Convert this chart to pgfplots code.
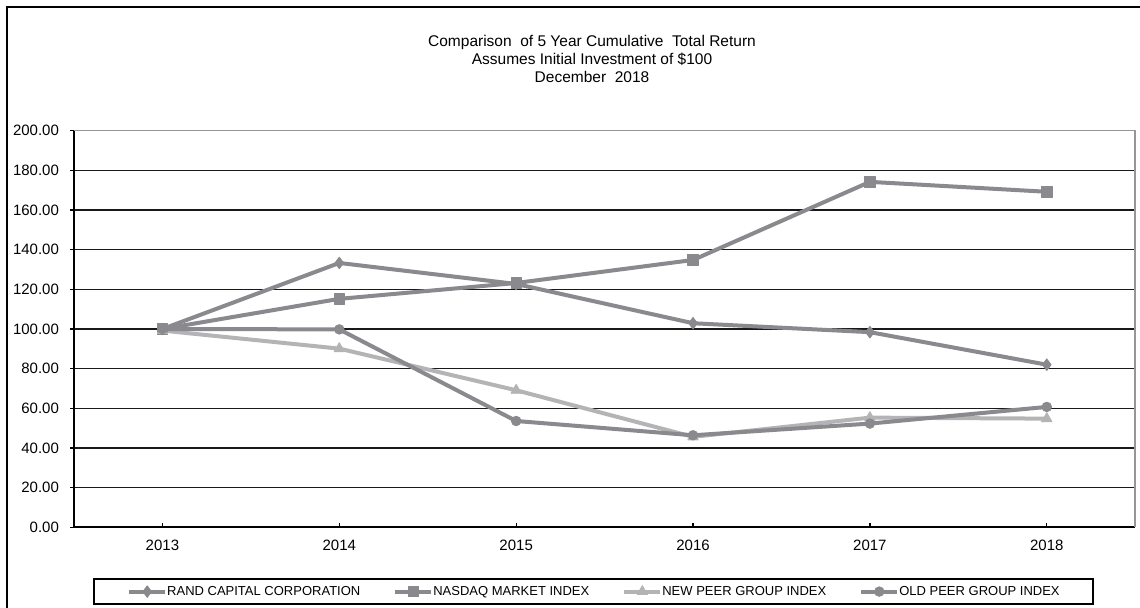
\documentclass[border=0pt]{standalone}
\usepackage{fontspec}
\setmainfont{Liberation Sans}
\usepackage{pgfplots}
\pgfplotsset{compat=1.18}
\definecolor{dg}{RGB}{138,138,142}
\definecolor{lg}{RGB}{180,180,182}
\definecolor{bordergray}{RGB}{150,150,150}
\begin{document}
\begin{tikzpicture}
\path[use as bounding box] (0,0) rectangle (570pt,304pt);
\fill[white] (0,0) rectangle (570pt,304pt);
\draw[line width=1pt] (3.35pt,0pt) -- (3.35pt,300.35pt) -- (570pt,300.35pt);
\node[anchor=base, font=\fontsize{7.75pt}{9pt}\selectfont, inner sep=0pt] at (296pt,280.85pt) {Comparison\ \ of 5 Year Cumulative\ \ Total Return};
\node[anchor=base, font=\fontsize{7.75pt}{9pt}\selectfont, inner sep=0pt] at (296pt,271.85pt) {Assumes Initial Investment of \$100};
\node[anchor=base, font=\fontsize{7.75pt}{9pt}\selectfont, inner sep=0pt] at (296pt,262.85pt) {December\ \ 2018};
\begin{axis}[
  scale only axis,
  width=530.6pt, height=198.3pt,
  at={(37pt,40.35pt)}, anchor=south west,
  xmin=-0.5, xmax=5.5, ymin=0, ymax=200,
  xtick={0,1,2,3,4,5},
  xticklabels={2013,2014,2015,2016,2017,2018},
  ytick={0,20,40,60,80,100,120,140,160,180,200},
  /pgf/number format/assume math mode=true,
  yticklabel style={/pgf/number format/fixed, /pgf/number format/fixed zerofill, /pgf/number format/precision=2, anchor=east, xshift=-5.35pt},
  axis lines*=left,
  axis line style={-, black, line width=0.9pt},
  tick align=outside,
  major tick length=2pt,
  tick style={black, line width=0.6pt},
  xtick style={yshift=2pt},
  ymajorgrids,
  grid style={black!90, line width=0.65pt},
  ticklabel style={font=\fontsize{7.5pt}{9pt}\selectfont, inner sep=0pt},
  xticklabel style={anchor=north, yshift=-4.35pt},
  clip=false,
  legend columns=4,
  legend cell align=left,
  legend image code/.code={\draw[mark repeat=2,mark phase=2,#1] plot coordinates {(0pt,0pt) (9pt,0pt) (18pt,0pt)};},
  legend style={at={(axis description cs:0.0182,-0.1286)}, anchor=north west,
    draw=black, line width=0.9pt, inner xsep=16.5pt, inner ysep=3.2pt,
    font=\fontsize{6.5pt}{7.8pt}\selectfont, column sep=0pt,
    nodes={inner sep=0pt, text height=4.7pt, text depth=0.3pt}},
]
\addplot[dg, line width=2pt, line join=round, mark=diamond*, mark size=2.9pt, mark options={solid, fill=dg, draw=dg, line width=0.4pt}]
  coordinates {(0,100) (1,133.3) (2,122.7) (3,102.9) (4,98.4) (5,82.0)};
\addplot[dg, line width=2pt, line join=round, mark=square*, mark size=2.6pt, mark options={solid, fill=dg, draw=dg, line width=0.4pt}]
  coordinates {(0,100) (1,115.2) (2,123.2) (3,134.8) (4,174.2) (5,169.2)};
\addplot[lg, line width=2pt, line join=round, mark=triangle*, mark size=3pt, mark options={solid, fill=lg, draw=lg, line width=0.4pt}]
  coordinates {(0,99.2) (1,90.1) (2,69.1) (3,45.6) (4,55.3) (5,54.8)};
\addplot[dg, line width=2pt, line join=round, mark=*, mark size=2.4pt, mark options={solid, fill=dg, draw=dg, line width=0.4pt}]
  coordinates {(0,100) (1,99.8) (2,53.6) (3,46.4) (4,52.3) (5,60.7)};
\legend{RAND CAPITAL CORPORATION\hspace*{16.5pt},NASDAQ MARKET INDEX\hspace*{16.5pt},NEW PEER GROUP INDEX\hspace*{16.5pt},OLD PEER GROUP INDEX}
\draw[bordergray, line width=0.75pt] (rel axis cs:0,1) -- (rel axis cs:1,1) -- (rel axis cs:1,0);
\end{axis}
\end{tikzpicture}
\end{document}
